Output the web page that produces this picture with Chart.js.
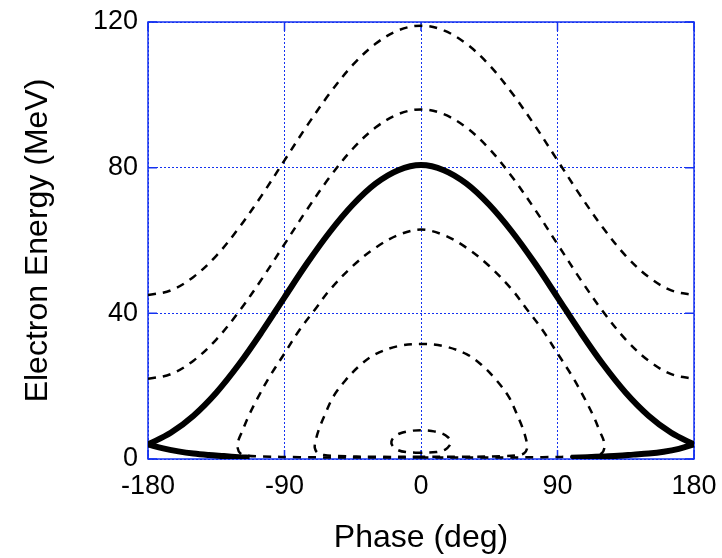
<!DOCTYPE html>
<html>
<head>
<meta charset="utf-8">
<script src="https://cdn.jsdelivr.net/npm/chart.js@4.4.1/dist/chart.umd.min.js"></script>
<style>
  html, body { margin: 0; padding: 0; background: #fff; }
  #wrap { width: 722px; height: 558px; }
</style>
</head>
<body>
<div id="wrap"><canvas id="chart"></canvas></div>
<script>
// axis ticks
const phaseTicks = [-180, -90, 0, 90, 180];
const energyTicks = [0, 40, 80, 120];

// untrapped orbits, read on a 15 deg grid
const phaseGrid = [-180,-165,-150,-135,-120,-105,-90,-75,-60,-45,-30,-15,0,15,30,45,60,75,90,105,120,135,150,165,180];
const energyHigh = [45,46.3,50,55.8,63.5,72.4,82,91.6,100.5,108.2,114,117.7,119,117.7,114,108.2,100.5,91.6,82,72.4,63.5,55.8,50,46.3,45];
const energyMid = [22,23.3,27,32.8,40.5,49.4,59,68.6,77.5,85.2,91,94.7,96,94.7,91,85.2,77.5,68.6,59,49.4,40.5,32.8,27,23.3,22];

// separatrix (solid)
const sepUpper = [4,7.2,11.9,18.2,26,34.9,44.4,53.8,62.4,69.8,75.6,79.3,80.7,79.3,75.6,69.8,62.4,53.8,44.4,34.9,26,18.2,11.9,7.2,4];
const sepLowLeftPhase = [-180,-170,-160,-150,-140,-130,-120,-113];
const sepLowLeft = [4,2.9,2.1,1.5,1.1,0.8,0.5,0.35];
const sepLowRightPhase = [99,110,120,130,140,150,160,170,180];
const sepLowRight = [0.35,0.5,0.7,0.9,1.2,1.5,2.0,2.8,4];

// trapped orbits (closed loops)
const orbitCPhase = [0,-40,-80,-105,-114,-119,-121,-120.5,-118,-114,-108,-100,-90,-80,-70,-60,-45,-30,-15,0,15,30,45,60,70,80,90,100,108,114,118,120.5,121,119,114,105,80,40,0];
const orbitCEnergy = [0.4,0.4,0.5,0.7,0.9,1.5,3.2,5,7.5,11.5,16.5,22.5,29,35.5,41,46.5,53,58,61.5,63,61.5,58,53,46.5,41,35.5,29,22.5,16.5,11.5,7.5,5,3.2,1.5,0.9,0.7,0.5,0.4,0.4];
const orbitDPhase = [0,-30,-55,-64,-68,-70,-69.5,-67,-63,-58,-50,-40,-30,-15,0,15,30,40,50,58,63,67,69.5,70,68,64,55,30,0];
const orbitDEnergy = [0.6,0.6,0.8,1.1,1.6,3,5,8.5,12.5,17,21.5,25.8,28.8,31,31.6,31,28.8,25.8,21.5,17,12.5,8.5,5,3,1.6,1.1,0.8,0.6,0.6];
const orbitEPhase = [0,-10,-16,-19,-19.5,-18,-14,-7,0,7,14,18,19.5,19,16,10,0];
const orbitEEnergy = [1.7,1.9,2.6,3.8,4.8,5.9,7,7.7,7.9,7.7,7,5.9,4.8,3.8,2.6,1.9,1.7];

const blue = 'rgb(20,50,240)';
const font = 'Liberation Sans, Arial, Helvetica, sans-serif';

function pts(xs, ys) {
  return xs.map((x, i) => ({ x: x, y: ys[i] }));
}
function dashed(xs, ys) {
  return { data: pts(xs, ys), borderColor: '#000', borderWidth: 2.5, borderDash: [8, 7], tension: 0.35 };
}
function solid(xs, ys) {
  return { data: pts(xs, ys), borderColor: '#000', borderWidth: 6, tension: 0.35 };
}

// solid frame and inward ticks
const frame = {
  id: 'frame',
  beforeDatasetsDraw(chart) {
    const { ctx, chartArea: a, scales: { x, y } } = chart;
    ctx.save();
    ctx.strokeStyle = blue;
    ctx.lineWidth = 1.5;
    ctx.strokeRect(a.left, a.top, a.right - a.left, a.bottom - a.top);
    ctx.beginPath();
    phaseTicks.forEach(v => {
      const px = x.getPixelForValue(v);
      ctx.moveTo(px, a.bottom); ctx.lineTo(px, a.bottom - 9);
      ctx.moveTo(px, a.top); ctx.lineTo(px, a.top + 9);
    });
    energyTicks.forEach(v => {
      const py = y.getPixelForValue(v);
      ctx.moveTo(a.left, py); ctx.lineTo(a.left + 9, py);
      ctx.moveTo(a.right, py); ctx.lineTo(a.right - 9, py);
    });
    ctx.stroke();
    ctx.restore();
  }
};

new Chart(document.getElementById('chart'), {
  type: 'scatter',
  data: {
    datasets: [
      dashed(phaseGrid, energyHigh),
      dashed(phaseGrid, energyMid),
      solid(phaseGrid, sepUpper),
      solid(sepLowLeftPhase, sepLowLeft),
      solid(sepLowRightPhase, sepLowRight),
      dashed(orbitCPhase, orbitCEnergy),
      dashed(orbitDPhase, orbitDEnergy),
      dashed(orbitEPhase, orbitEEnergy)
    ]
  },
  options: {
    responsive: true,
    maintainAspectRatio: false,
    animation: false,
    showLine: true,
    elements: { point: { radius: 0 } },
    layout: { padding: { top: 22, right: 28, left: 0, bottom: 0 } },
    plugins: { legend: { display: false }, tooltip: { enabled: false } },
    scales: {
      x: {
        type: 'linear', min: -180, max: 180,
        afterBuildTicks: s => { s.ticks = phaseTicks.map(v => ({ value: v })); },
        afterFit: s => { s.height = 99; s.paddingLeft = 0; s.paddingRight = 0; },
        ticks: { color: '#000', font: { family: font, size: 27 }, padding: 11, maxRotation: 0 },
        grid: { color: blue, lineWidth: 1, drawTicks: false },
        border: { display: false, dash: [2, 2] },
        title: { display: true, text: 'Phase (deg)', color: '#000', font: { family: font, size: 32 }, padding: { top: 0, bottom: 1 } }
      },
      y: {
        type: 'linear', min: 0, max: 120,
        afterBuildTicks: s => { s.ticks = energyTicks.map(v => ({ value: v })); },
        afterFit: s => { s.width = 148; s.paddingTop = 0; s.paddingBottom = 0; },
        ticks: { color: '#000', font: { family: font, size: 27 }, padding: 10 },
        grid: { color: blue, lineWidth: 1, drawTicks: false },
        border: { display: false, dash: [2, 2] },
        title: { display: true, text: 'Electron Energy (MeV)', color: '#000', font: { family: font, size: 32 }, padding: { top: 19, bottom: 0 } }
      }
    }
  },
  plugins: [frame]
});
</script>
</body>
</html>
